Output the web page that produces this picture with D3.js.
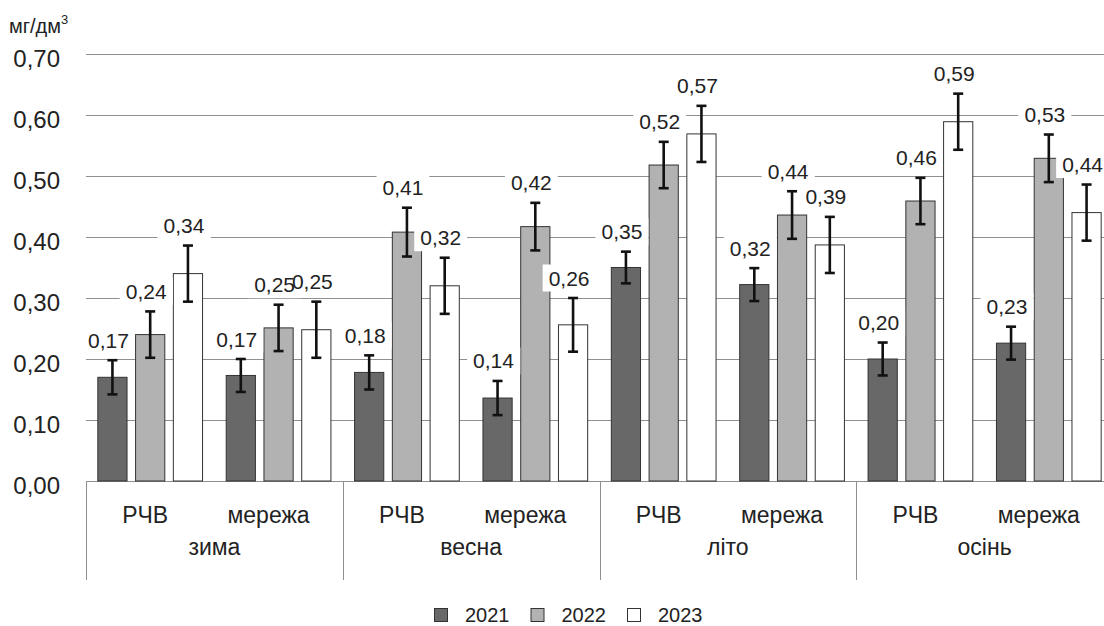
<!DOCTYPE html>
<html>
<head>
<meta charset="utf-8">
<script src="https://cdn.jsdelivr.net/npm/d3@7"></script>
<style>
  html, body { margin: 0; padding: 0; background: #fff; }
  svg { display: block; font-family: "Liberation Sans", Arial, Helvetica, sans-serif; }
</style>
</head>
<body>
<svg id="chart" width="1104" height="626"></svg>
<script>
// ---- data ----
const seasons = ["зима", "весна", "літо", "осінь"];
const sites = ["РЧВ", "мережа"];
const years = ["2021", "2022", "2023"];
// order: зима-РЧВ, зима-мережа, весна-РЧВ, весна-мережа, літо-РЧВ, літо-мережа, осінь-РЧВ, осінь-мережа
const values2021 = [0.170, 0.173, 0.178, 0.136, 0.350, 0.322, 0.200, 0.226];
const values2022 = [0.240, 0.251, 0.408, 0.417, 0.518, 0.436, 0.459, 0.529];
const values2023 = [0.340, 0.248, 0.320, 0.256, 0.569, 0.387, 0.589, 0.440];
const errors2021 = [0.028, 0.027, 0.028, 0.028, 0.026, 0.027, 0.027, 0.027];
const errors2022 = [0.038, 0.038, 0.040, 0.039, 0.038, 0.039, 0.038, 0.039];
const errors2023 = [0.046, 0.046, 0.046, 0.044, 0.046, 0.046, 0.046, 0.046];
const yTicks = [0, 0.1, 0.2, 0.3, 0.4, 0.5, 0.6, 0.7];
const unitLabel = "мг/дм";
const unitSup = "3";

// ---- build table ----
const groups = [];
seasons.forEach(s => sites.forEach(t => groups.push(s + "|" + t)));
const seriesVals = [values2021, values2022, values2023];
const seriesErr = [errors2021, errors2022, errors2023];
const bars = [];
groups.forEach((g, gi) => years.forEach((yr, yi) => {
  bars.push({ group: g, year: yr, value: seriesVals[yi][gi], err: seriesErr[yi][gi] });
}));

// ---- styles ----
const W = 1104, H = 626;
const left = 86, right = 1113, y0 = 481, yTop = 54;
const colors = { "2021": "#686868", "2022": "#b2b2b2", "2023": "#ffffff" };
const gridColor = "#8f8f8f";
const textColor = "#222";
const fmt = v => v.toFixed(2).replace(".", ",");

const svg = d3.select("#chart");
svg.append("rect").attr("width", W).attr("height", H).attr("fill", "#fff");

const y = d3.scaleLinear().domain([0, 0.7]).range([y0, yTop]);
const xSeason = d3.scaleBand().domain(seasons).range([left, right]).padding(0);
const xGroup = d3.scaleBand().domain(groups).range([left, right]).padding(0);
const xYear = d3.scaleBand().domain(years).range([0, xGroup.bandwidth()])
  .paddingInner(0.2).paddingOuter(0.3);

// gridlines
svg.append("g").selectAll("line").data(yTicks).join("line")
  .attr("x1", left).attr("x2", W)
  .attr("y1", d => Math.round(y(d)) + 0.5).attr("y2", d => Math.round(y(d)) + 0.5)
  .attr("stroke", gridColor).attr("stroke-width", 1);

// y tick labels
svg.append("g").selectAll("text").data(yTicks).join("text")
  .attr("x", 60).attr("y", d => y(d) + 4)
  .attr("text-anchor", "end").attr("dominant-baseline", "central")
  .attr("font-size", 24).attr("fill", textColor)
  .text(d => fmt(d));

// unit label
const ut = svg.append("text").attr("x", 9).attr("y", 33)
  .attr("font-size", 20).attr("fill", textColor);
ut.append("tspan").text(unitLabel);
ut.append("tspan").attr("font-size", 13).attr("dy", -9).text(unitSup);

// season dividers
svg.append("g").selectAll("line").data(seasons).join("line")
  .attr("x1", d => Math.round(xSeason(d)) + 0.5).attr("x2", d => Math.round(xSeason(d)) + 0.5)
  .attr("y1", y0).attr("y2", 580)
  .attr("stroke", gridColor).attr("stroke-width", 1);

// bars
const barG = svg.append("g");
barG.selectAll("rect").data(bars).join("rect")
  .attr("x", d => xGroup(d.group) + xYear(d.year) + 0.5)
  .attr("width", xYear.bandwidth() - 1)
  .attr("y", d => y(d.value))
  .attr("height", d => y(0) - y(d.value))
  .attr("fill", d => colors[d.year])
  .attr("stroke", "#333").attr("stroke-width", 1);

// error bars
const eg = svg.append("g").attr("stroke", "#111").attr("stroke-width", 2.6);
bars.forEach(d => {
  const cx = xGroup(d.group) + xYear(d.year) + xYear.bandwidth() / 2;
  const yt = y(d.value + d.err), yb = y(d.value - d.err);
  eg.append("line").attr("x1", cx).attr("x2", cx).attr("y1", yt).attr("y2", yb);
  eg.append("line").attr("x1", cx - 5).attr("x2", cx + 5).attr("y1", yt).attr("y2", yt);
  eg.append("line").attr("x1", cx - 5).attr("x2", cx + 5).attr("y1", yb).attr("y2", yb);
});

// data labels with white boxes (boxes first, texts on top)
const boxG = svg.append("g");
const txtG = svg.append("g");
bars.forEach(d => {
  const cx = xGroup(d.group) + xYear(d.year) + xYear.bandwidth() / 2 - 4;
  const cy = y(d.value + d.err) - 20;
  const t = txtG.append("text").attr("x", cx).attr("y", cy)
    .attr("text-anchor", "middle").attr("dominant-baseline", "central")
    .attr("font-size", 21).attr("fill", textColor).text(fmt(d.value));
  const bb = t.node().getBBox();
  boxG.append("rect").attr("fill", "#fff")
    .attr("x", bb.x - 6).attr("y", bb.y - 2).attr("width", bb.width + 12).attr("height", bb.height + 4);
});

// category labels
const siteOffset = { "РЧВ": -5, "мережа": -10 };
svg.append("g").selectAll("text").data(groups).join("text")
  .attr("x", d => xGroup(d) + xGroup.bandwidth() / 2 + siteOffset[d.split("|")[1]])
  .attr("y", 523)
  .attr("text-anchor", "middle").attr("font-size", 23).attr("fill", textColor)
  .text(d => d.split("|")[1]);
svg.append("g").selectAll("text").data(seasons).join("text")
  .attr("x", d => xSeason(d) + xSeason.bandwidth() / 2)
  .attr("y", 555)
  .attr("text-anchor", "middle").attr("font-size", 23).attr("fill", textColor)
  .text(d => d);

// legend
const leg = svg.append("g");
let lx = 434;
const ly = 615;
years.forEach(yr => {
  leg.append("rect").attr("x", lx + 0.5).attr("y", ly - 7 + 0.5).attr("width", 13).attr("height", 13)
    .attr("fill", colors[yr]).attr("stroke", "#333").attr("stroke-width", 1);
  const t = leg.append("text").attr("x", lx + 31).attr("y", ly)
    .attr("dominant-baseline", "central").attr("font-size", 20).attr("fill", textColor).text(yr);
  lx = lx + 31 + t.node().getComputedTextLength() + 21;
});
</script>
</body>
</html>
